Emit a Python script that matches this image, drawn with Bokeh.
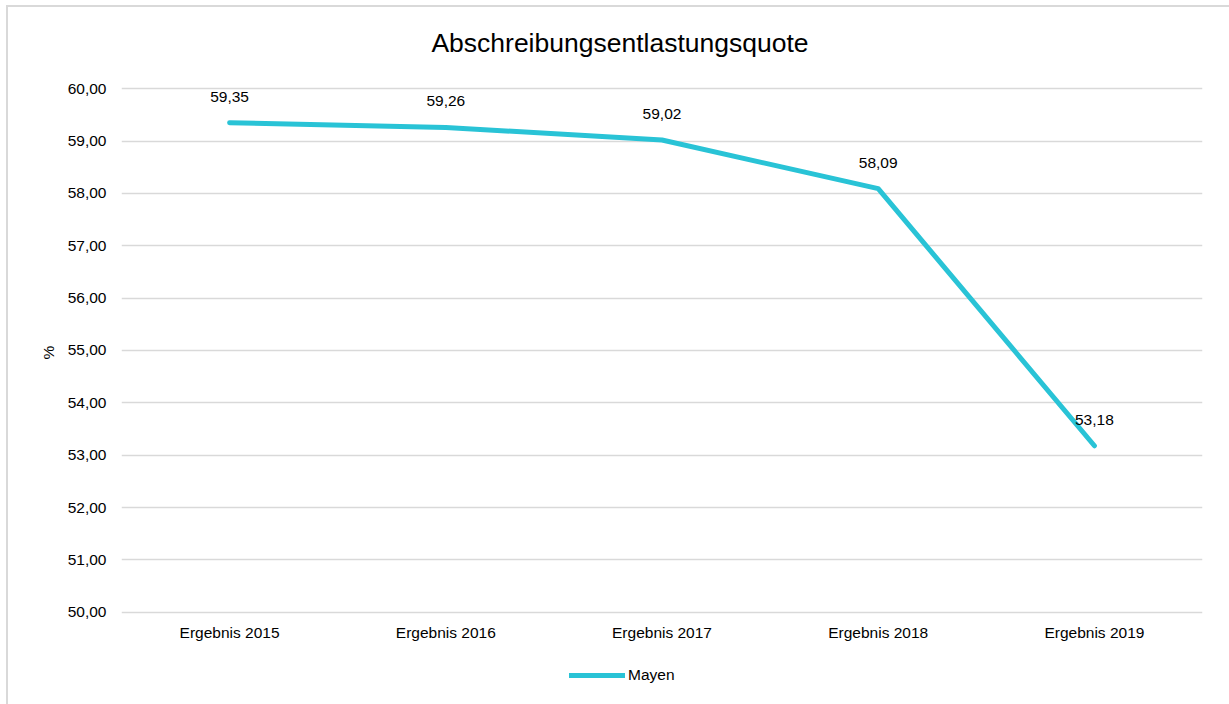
from bokeh.plotting import figure
from bokeh.models import (ColumnDataSource, FixedTicker, LabelSet, Legend, LegendItem)
from bokeh.core.properties import value
from bokeh.embed import file_html
from bokeh.resources import INLINE

categories = ["Ergebnis 2015", "Ergebnis 2016", "Ergebnis 2017", "Ergebnis 2018", "Ergebnis 2019"]
values = [59.35, 59.26, 59.02, 58.09, 53.18]
y_ticks = [50, 51, 52, 53, 54, 55, 56, 57, 58, 59, 60]
series_name = "Mayen"
title_text = "Abschreibungsentlastungsquote"
y_label = "%"

def fmt(v):
    return f"{v:.2f}".replace(".", ",")

FONT = "Liberation Sans"
LINE_COLOR = "#29C3D6"
GRID = "#D9D9D9"

src = ColumnDataSource(dict(x=categories, y=values, lbl=[fmt(v) for v in values]))
cat_src = ColumnDataSource(dict(x=categories, y=[y_ticks[0]] * len(categories)))
title_src = ColumnDataSource(dict(x=[categories[len(categories) // 2]], y=[y_ticks[-1]], t=[title_text]))

# y range extends beyond the ticks so the title and legend rows sit inside the frame
p = figure(width=1224, height=699, x_range=categories, y_range=(48.2, 61.55),
           output_backend="svg", toolbar_location=None,
           min_border_left=113, min_border_right=30, min_border_top=0, min_border_bottom=0)
p.outline_line_color = None
p.border_fill_color = "white"
p.background_fill_color = "white"

r = p.line("x", "y", source=src, line_color=LINE_COLOR, line_width=5, line_cap="round", line_join="round")

# data labels
p.add_layout(LabelSet(x="x", y="y", text="lbl", source=src, y_offset=21, text_align="center",
                      text_baseline="bottom", text_font_size="15.5px", text_color="#000000",
                      text_font=value(FONT)))

# category labels under the lowest grid line
p.add_layout(LabelSet(x="x", y="y", text="x", source=cat_src, y_offset=-12, text_align="center",
                      text_baseline="top", text_font_size="15.5px", text_color="#000000",
                      text_font=value(FONT)))

# chart title
p.add_layout(LabelSet(x="x", y="y", text="t", source=title_src, x_offset=-42, y_offset=46,
                      text_align="center", text_baseline="middle", text_font_size="26.5px",
                      text_color="#000000", text_font=value(FONT)))

p.yaxis.ticker = FixedTicker(ticks=y_ticks)
p.yaxis.major_label_overrides = {t: fmt(t) for t in y_ticks}
p.yaxis.axis_line_color = None
p.yaxis.major_tick_line_color = None
p.yaxis.minor_tick_line_color = None
p.yaxis.major_label_text_font = FONT
p.yaxis.major_label_text_font_size = "15.5px"
p.yaxis.major_label_text_color = "#000000"
p.yaxis.major_label_standoff = 9
p.yaxis.axis_label = "\u00a0" * 2 + y_label
p.yaxis.axis_label_text_font = FONT
p.yaxis.axis_label_text_font_size = "15.5px"
p.yaxis.axis_label_text_font_style = "normal"
p.yaxis.axis_label_text_color = "#000000"
p.yaxis.axis_label_standoff = 8

p.xaxis.visible = False
p.xgrid.grid_line_color = None
p.ygrid.grid_line_color = GRID
p.ygrid.grid_line_width = 1.3

legend = Legend(items=[LegendItem(label=series_name, renderers=[r])], location=(448, 21),
                orientation="horizontal", glyph_width=56, label_standoff=3,
                label_text_font=FONT, label_text_font_size="15.5px", label_text_color="#000000",
                border_line_color=None, background_fill_alpha=0, margin=0, padding=5)
p.add_layout(legend)

p.styles = {"margin-left": "6px", "margin-top": "5px",
            "border-left": "2px solid #D9D9D9", "border-top": "2px solid #D9D9D9"}

open("out.html", "w").write(file_html(p, INLINE))
